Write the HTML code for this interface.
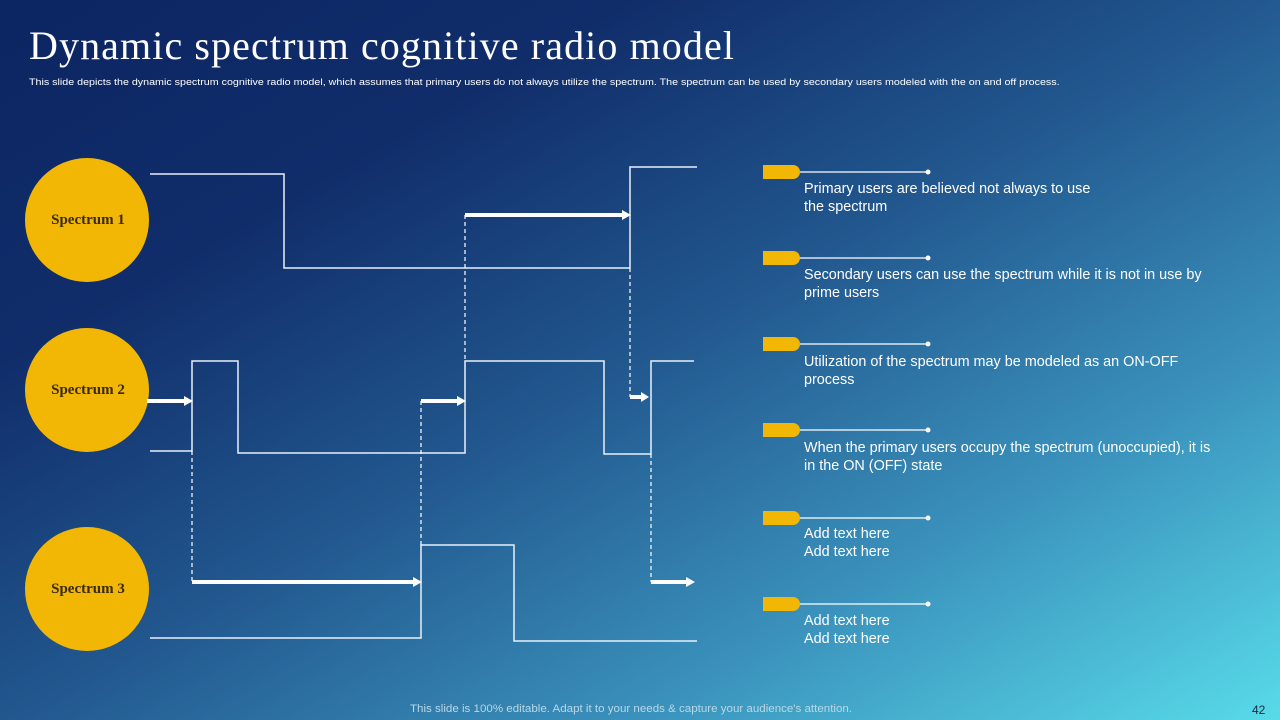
<!DOCTYPE html>
<html><head><meta charset="utf-8"><style>
html,body{margin:0;padding:0}
body{width:1280px;height:720px;overflow:hidden;position:relative;font-family:"Liberation Sans",sans-serif;
background:linear-gradient(150deg,#0c2563 0%,#102d6a 25%,#22588f 50%,#3b93bd 75%,#58dbe9 100%);}
h1{position:absolute;left:29px;top:22px;margin:0;font-family:"Liberation Serif",serif;font-weight:normal;color:#fff;font-size:40px;letter-spacing:1.1px}
.sub{position:absolute;left:29px;top:77px;font-size:9.6px;color:#fff;white-space:nowrap;transform:scaleX(1.115);transform-origin:0 0}
.item{position:absolute;left:804px;color:#fff;font-size:14.4px;line-height:18px;width:440px}
.foot{position:absolute;left:410px;top:703px;font-size:11px;color:#b8d8e6;transform:scaleX(1.05);transform-origin:0 0;white-space:nowrap}
.pg{position:absolute;left:1252px;top:703px;font-size:12px;color:#1b2a40}
</style></head><body>
<h1>Dynamic spectrum cognitive radio model</h1>
<div class="sub">This slide depicts the dynamic spectrum cognitive radio model, which assumes that primary users do not always utilize the spectrum. The spectrum can be used by secondary users modeled with the on and off process.</div>
<svg width="1280" height="720" style="position:absolute;left:0;top:0">
<g fill="#f2b705">
<circle cx="87" cy="220" r="62"/><circle cx="87" cy="390" r="62"/><circle cx="87" cy="589" r="62"/>
</g>
<g font-family="Liberation Serif,serif" font-weight="bold" font-size="15" fill="#3a2a10" text-anchor="middle">
<text x="88" y="224">Spectrum 1</text><text x="88" y="394">Spectrum 2</text><text x="88" y="593">Spectrum 3</text>
</g>
<g fill="none" stroke="#e8f0fa" stroke-width="1.5">
<polyline points="150,174 284,174 284,268 630,268 630,167 697,167"/>
<polyline points="150,451 192,451 192,361 238,361 238,453 465,453 465,361 604,361 604,454 651,454 651,361 694,361"/>
<polyline points="150,638 421,638 421,545 514,545 514,641 697,641"/>
</g>
<g stroke="#fff" stroke-width="1.2" stroke-dasharray="4,3">
<line x1="465" y1="215" x2="465" y2="361"/>
<line x1="630" y1="268" x2="630" y2="397"/>
<line x1="421" y1="401" x2="421" y2="545"/>
<line x1="192" y1="451" x2="192" y2="582"/>
<line x1="651" y1="454" x2="651" y2="582"/>
</g>
<g stroke="#fff" stroke-width="4">
<line x1="465" y1="215" x2="624" y2="215"/>
<line x1="147" y1="401" x2="186" y2="401"/>
<line x1="421" y1="401" x2="459" y2="401"/>
<line x1="630" y1="397" x2="643" y2="397"/>
<line x1="192" y1="582" x2="415" y2="582"/>
<line x1="651" y1="582" x2="688" y2="582"/>
</g>
<g fill="#fff">
<polygon points="622,210 631,215 622,220"/>
<polygon points="184,396 193,401 184,406"/>
<polygon points="457,396 466,401 457,406"/>
<polygon points="641,392 649,397 641,402"/>
<polygon points="413,577 422,582 413,587"/>
<polygon points="686,577 695,582 686,587"/>
</g>
<g>
<g transform="translate(0,0)"><path d="M763,165 H793 A7,7 0 0 1 793,179 H763 Z" fill="#f2b705"/><line x1="800" y1="172" x2="928" y2="172" stroke="#fff" stroke-width="1.2"/><circle cx="928" cy="172" r="2.5" fill="#fff"/></g>
<g transform="translate(0,86)"><path d="M763,165 H793 A7,7 0 0 1 793,179 H763 Z" fill="#f2b705"/><line x1="800" y1="172" x2="928" y2="172" stroke="#fff" stroke-width="1.2"/><circle cx="928" cy="172" r="2.5" fill="#fff"/></g>
<g transform="translate(0,172)"><path d="M763,165 H793 A7,7 0 0 1 793,179 H763 Z" fill="#f2b705"/><line x1="800" y1="172" x2="928" y2="172" stroke="#fff" stroke-width="1.2"/><circle cx="928" cy="172" r="2.5" fill="#fff"/></g>
<g transform="translate(0,258)"><path d="M763,165 H793 A7,7 0 0 1 793,179 H763 Z" fill="#f2b705"/><line x1="800" y1="172" x2="928" y2="172" stroke="#fff" stroke-width="1.2"/><circle cx="928" cy="172" r="2.5" fill="#fff"/></g>
<g transform="translate(0,346)"><path d="M763,165 H793 A7,7 0 0 1 793,179 H763 Z" fill="#f2b705"/><line x1="800" y1="172" x2="928" y2="172" stroke="#fff" stroke-width="1.2"/><circle cx="928" cy="172" r="2.5" fill="#fff"/></g>
<g transform="translate(0,432)"><path d="M763,165 H793 A7,7 0 0 1 793,179 H763 Z" fill="#f2b705"/><line x1="800" y1="172" x2="928" y2="172" stroke="#fff" stroke-width="1.2"/><circle cx="928" cy="172" r="2.5" fill="#fff"/></g>
</g>
</svg>
<div class="item" style="top:180px">Primary users are believed not always to use<br>the spectrum</div>
<div class="item" style="top:266px">Secondary users can use the spectrum while it is not in use by<br>prime users</div>
<div class="item" style="top:353px">Utilization of the spectrum may be modeled as an ON-OFF<br>process</div>
<div class="item" style="top:439px">When the primary users occupy the spectrum (unoccupied), it is<br>in the ON (OFF) state</div>
<div class="item" style="top:525px">Add text here<br>Add text here</div>
<div class="item" style="top:612px">Add text here<br>Add text here</div>
<div class="foot">This slide is 100% editable. Adapt it to your needs &amp; capture your audience's attention.</div>
<div class="pg">42</div>
</body></html>
